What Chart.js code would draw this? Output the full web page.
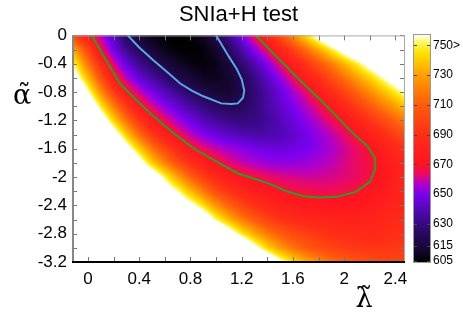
<!DOCTYPE html>
<html>
<head>
<meta charset="utf-8">
<script src="https://cdn.jsdelivr.net/npm/chart.js@4.4.0/dist/chart.umd.min.js"></script>
<style>
  html, body { margin: 0; padding: 0; background: #fff; }
</style>
</head>
<body>
<canvas id="chart" width="463" height="318"></canvas>
<script>
// Grid nodes of the map (lambda across, alpha down)
const lamNodes = [-0.1, 0, 0.1, 0.2, 0.3, 0.4, 0.5, 0.6, 0.7, 0.8, 0.9, 1.0, 1.1, 1.2,
                  1.3, 1.4, 1.5, 1.6, 1.7, 1.8, 1.9, 2.0, 2.1, 2.2, 2.3, 2.4, 2.5];
const alpNodes = [0, -0.2, -0.4, -0.6, -0.8, -1.0, -1.2, -1.4, -1.6, -1.8, -2.0,
                  -2.2, -2.4, -2.6, -2.8, -3.0, -3.2];

// chi2 values, one row per alpha node (above 757 = white)
const chiRows = [
  [697, 675, 657, 641, 622, 612, 607, 604, 603, 605, 610, 620, 633, 650, 667, 685, 704, 724, 745, 765, 785, 805, 825, 845, 865, 885, 905],
  [728, 700, 667, 648, 633, 622, 614, 608, 605, 604, 606, 612, 623, 637, 652, 665, 681, 698, 715, 732, 749, 765, 782, 800, 818, 836, 854],
  [748, 718, 688, 661, 645, 633, 623, 616, 611, 607, 606, 608, 615, 627, 639, 651, 664, 678, 692, 706, 720, 735, 749, 763, 777, 792, 807],
  [766, 736, 705, 675, 657, 645, 636, 627, 619, 614, 610, 609, 612, 620, 631, 642, 653, 664, 677, 690, 703, 716, 729, 742, 755, 768, 781],
  [790, 757, 725, 697, 672, 659, 649, 640, 632, 624, 618, 614, 613, 619, 628, 637, 646, 655, 663, 674, 687, 700, 712, 724, 736, 748, 760],
  [810, 780, 748, 720, 695, 673, 661, 652, 644, 636, 629, 624, 621, 622, 628, 636, 643, 650, 657, 664, 673, 685, 697, 708, 719, 730, 741],
  [840, 805, 772, 742, 716, 693, 675, 664, 655, 647, 640, 635, 631, 629, 630, 634, 640, 646, 652, 658, 664, 671, 681, 692, 702, 712, 722],
  [870, 835, 800, 768, 740, 715, 694, 678, 667, 658, 651, 646, 642, 639, 637, 637, 639, 643, 648, 653, 658, 663, 670, 679, 688, 697, 706],
  [900, 865, 830, 797, 766, 741, 718, 700, 685, 671, 664, 659, 655, 652, 649, 647, 646, 647, 649, 652, 656, 660, 664, 669, 677, 685, 693],
  [930, 895, 860, 826, 794, 766, 741, 721, 704, 690, 678, 669, 663, 659, 656, 654, 653, 653, 654, 656, 658, 661, 664, 667, 673, 680, 687],
  [960, 925, 890, 856, 823, 793, 773, 751, 730, 712, 697, 685, 676, 670, 667, 664, 662, 661, 660, 660, 661, 662, 664, 667, 672, 678, 684],
  [990, 955, 920, 886, 853, 822, 794, 770, 755, 736, 719, 703, 692, 683, 677, 672, 669, 667, 666, 665, 665, 666, 668, 671, 675, 680, 685],
  [1020, 985, 950, 916, 883, 852, 823, 797, 775, 762, 745, 726, 712, 700, 691, 684, 679, 676, 674, 673, 672, 672, 673, 675, 678, 682, 686],
  [1048, 1020, 992, 964, 936, 908, 880, 853, 826, 800, 775, 752, 735, 720, 708, 699, 692, 687, 684, 682, 681, 680, 680, 681, 683, 686, 690],
  [1085, 1058, 1031, 1004, 977, 950, 923, 896, 869, 842, 815, 790, 768, 748, 732, 719, 709, 702, 697, 693, 690, 688, 687, 686, 687, 689, 692],
  [1122, 1096, 1070, 1044, 1018, 992, 966, 940, 914, 888, 862, 836, 810, 785, 762, 743, 728, 717, 709, 703, 699, 696, 694, 693, 693, 694, 696],
  [1150, 1125, 1100, 1075, 1050, 1025, 1000, 975, 950, 925, 900, 875, 850, 826, 802, 780, 760, 745, 733, 724, 716, 710, 706, 703, 701, 700, 700]
];

// Contours
const blueLam = [0.31, 0.40, 0.51, 0.62, 0.72, 0.81, 0.90, 1.04, 1.12, 1.17, 1.21, 1.22, 1.20, 1.16, 1.10, 1.05, 1.00];
const blueAlp = [0, -0.17, -0.35, -0.52, -0.68, -0.78, -0.86, -0.96, -0.97, -0.96, -0.88, -0.78, -0.62, -0.47, -0.30, -0.15, 0];
const greenLam = [0.03, 0.14, 0.25, 0.38, 0.51, 0.66, 0.82, 1.00, 1.17, 1.41, 1.55, 1.68, 1.80, 1.94, 2.09, 2.20, 2.24, 2.24, 2.18, 2.05, 1.94, 1.82, 1.68, 1.50, 1.31];
const greenAlp = [0, -0.35, -0.68, -0.92, -1.14, -1.37, -1.59, -1.78, -1.95, -2.09, -2.20, -2.27, -2.29, -2.28, -2.21, -2.07, -1.90, -1.73, -1.56, -1.35, -1.14, -0.92, -0.68, -0.35, 0];

// Ticks
const xTicks = [0, 0.4, 0.8, 1.2, 1.6, 2, 2.4];
const yTicks = [0, -0.4, -0.8, -1.2, -1.6, -2, -2.4, -2.8, -3.2];
const cbTicks = [605, 615, 630, 650, 670, 690, 710, 730, 750];
const cbLabels = ['605', '615', '630', '650', '670', '690', '710', '730', '750>'];

// palette
const cmV = [604, 612, 620, 630, 640, 650, 657, 663, 670, 690, 710, 730, 745, 752, 757];
const cmC = ['#000000', '#14062e', '#22084f', '#36097f', '#5407b8', '#7c00f0', '#b400c4', '#e8086a',
             '#ff1420', '#ff2e16', '#ff5c0c', '#ffa000', '#ffe000', '#fff860', '#fffff0'].map(h => [
  parseInt(h.slice(1, 3), 16), parseInt(h.slice(3, 5), 16), parseInt(h.slice(5, 7), 16)]);

function colorOf(v) {
  if (v > cmV[cmV.length - 1]) return [255, 255, 255];
  if (v <= cmV[0]) return cmC[0];
  let k = 1;
  while (cmV[k] < v) k++;
  const t = (v - cmV[k - 1]) / (cmV[k] - cmV[k - 1]);
  const a = cmC[k - 1], b = cmC[k];
  return [a[0] + (b[0] - a[0]) * t, a[1] + (b[1] - a[1]) * t, a[2] + (b[2] - a[2]) * t];
}

function valueAt(lam, alp) {
  const nx = lamNodes.length, ny = alpNodes.length;
  let fx = (lam - lamNodes[0]) / (lamNodes[1] - lamNodes[0]);
  let fy = (alp - alpNodes[0]) / (alpNodes[1] - alpNodes[0]);
  fx = Math.max(0, Math.min(nx - 1, fx));
  fy = Math.max(0, Math.min(ny - 1, fy));
  const i = Math.min(Math.floor(fx), nx - 2), j = Math.min(Math.floor(fy), ny - 2);
  const tx = fx - i, ty = fy - j;
  const r0 = chiRows[j], r1 = chiRows[j + 1];
  const top = r0[i] + (r0[i + 1] - r0[i]) * tx;
  const bot = r1[i] + (r1[i + 1] - r1[i]) * tx;
  return top + (bot - top) * ty;
}

const heatmap = {
  id: 'heatmap',
  beforeDatasetsDraw(chart) {
    const {ctx, chartArea: a, scales: {x, y}} = chart;
    const x0 = Math.round(a.left), y0 = Math.round(a.top);
    const w = Math.round(a.right) - x0, h = Math.round(a.bottom) - y0;
    const img = ctx.createImageData(w, h);
    const lams = [];
    for (let i = 0; i < w; i++) lams.push(x.getValueForPixel(x0 + i + 0.5));
    for (let j = 0; j < h; j++) {
      const alp = y.getValueForPixel(y0 + j + 0.5);
      for (let i = 0; i < w; i++) {
        const c = colorOf(valueAt(lams[i], alp));
        const p = (j * w + i) * 4;
        img.data[p] = c[0]; img.data[p + 1] = c[1]; img.data[p + 2] = c[2]; img.data[p + 3] = 255;
      }
    }
    ctx.putImageData(img, x0, y0);
  }
};

const frame = {
  id: 'frame',
  afterDatasetsDraw(chart) {
    const {ctx, chartArea: a, scales: {x, y, cb}} = chart;
    ctx.save();
    // minor/major ticks inward on all four sides
    ctx.strokeStyle = '#777';
    ctx.lineWidth = 1;
    ctx.beginPath();
    for (let v = 0; v <= 2.41; v += 0.2) {
      const px = Math.round(x.getPixelForValue(v)) + 0.5;
      ctx.moveTo(px, a.bottom); ctx.lineTo(px, a.bottom - 5);
      ctx.moveTo(px, a.top); ctx.lineTo(px, a.top + 5);
    }
    for (let v = 0; v >= -3.21; v -= 0.2) {
      const py = Math.round(y.getPixelForValue(v)) + 0.5;
      ctx.moveTo(a.left, py); ctx.lineTo(a.left + 5, py);
      ctx.moveTo(a.right, py); ctx.lineTo(a.right - 5, py);
    }
    ctx.stroke();
    // box
    ctx.strokeStyle = '#aaa';
    ctx.beginPath();
    ctx.moveTo(a.left, a.top + 0.5); ctx.lineTo(a.right, a.top + 0.5);
    ctx.moveTo(a.right - 0.5, a.top); ctx.lineTo(a.right - 0.5, a.bottom);
    ctx.stroke();
    ctx.strokeStyle = '#888';
    ctx.lineWidth = 2;
    ctx.beginPath();
    ctx.moveTo(a.left + 1, a.top); ctx.lineTo(a.left + 1, a.bottom);
    ctx.stroke();
    ctx.strokeStyle = '#000';
    ctx.beginPath();
    ctx.moveTo(a.left, a.bottom); ctx.lineTo(a.right, a.bottom);
    ctx.stroke();

    // colour bar
    const bx = cb.left + 9, bw = 16;
    for (let py = Math.round(cb.top); py < Math.round(cb.bottom); py++) {
      const c = colorOf(Math.min(756.9, cb.getValueForPixel(py + 0.5)));
      ctx.fillStyle = 'rgb(' + c.map(Math.round).join(',') + ')';
      ctx.fillRect(bx, py, bw, 1);
    }
    ctx.strokeStyle = '#999';
    ctx.lineWidth = 1;
    ctx.strokeRect(bx - 0.5, Math.round(cb.top) - 0.5, bw + 1, Math.round(cb.bottom) - Math.round(cb.top) + 1);
    ctx.strokeStyle = '#444';
    ctx.beginPath();
    cbTicks.forEach(v => {
      const py = Math.round(cb.getPixelForValue(v)) + 0.5;
      ctx.moveTo(bx, py); ctx.lineTo(bx + 3, py);
      ctx.moveTo(bx + bw, py); ctx.lineTo(bx + bw - 3, py);
    });
    ctx.stroke();

    // axis symbols
    ctx.fillStyle = '#000';
    ctx.font = '27px "DejaVu Serif"';
    ctx.textAlign = 'center';
    ctx.textBaseline = 'middle';
    ctx.fillText('\u03b1\u0303', 22, 97);
    ctx.fillText('\u03bb\u0303', 364, 300);
    ctx.restore();
  }
};

const tickFont = {family: '"Liberation Sans", Arial, sans-serif', size: 17};

new Chart(document.getElementById('chart'), {
  type: 'scatter',
  data: {
    datasets: [
      {
        data: blueLam.map((l, i) => ({x: l, y: blueAlp[i]})),
        showLine: true, borderColor: '#58a8e4', borderWidth: 2, pointRadius: 0, tension: 0
      },
      {
        data: greenLam.map((l, i) => ({x: l, y: greenAlp[i]})),
        showLine: true, borderColor: '#2f9a2a', borderWidth: 2, pointRadius: 0, tension: 0
      }
    ]
  },
  options: {
    responsive: false,
    animation: false,
    layout: {padding: 0},
    plugins: {
      legend: {display: false},
      tooltip: {enabled: false},
      title: {
        display: true, text: 'SNIa+H test', fullSize: false, color: '#000',
        font: {family: '"Liberation Sans", Arial, sans-serif', size: 22, weight: 'normal'},
        padding: {top: 2, bottom: 7}
      }
    },
    scales: {
      x: {
        type: 'linear', min: -0.125, max: 2.475,
        grid: {display: false, drawTicks: false}, border: {display: false},
        afterBuildTicks: s => { s.ticks = xTicks.map(v => ({value: v})); },
        afterFit: s => { s.height = 56; },
        ticks: {font: tickFont, color: '#000', padding: 7, autoSkip: false, maxRotation: 0,
                callback: v => String(v)}
      },
      y: {
        type: 'linear', min: -3.2, max: 0,
        grid: {display: false, drawTicks: false}, border: {display: false},
        afterBuildTicks: s => { s.ticks = yTicks.map(v => ({value: v})); },
        afterFit: s => { s.width = 72; },
        ticks: {font: tickFont, color: '#000', padding: 5, autoSkip: false,
                callback: v => String(v)}
      },
      cb: {
        type: 'linear', position: 'right', min: 604.3, max: 756.7,
        grid: {display: false, drawTicks: false}, border: {display: false},
        afterBuildTicks: s => { s.ticks = cbTicks.map(v => ({value: v})); },
        afterFit: s => { s.width = 58; },
        ticks: {font: {family: '"Liberation Sans", Arial, sans-serif', size: 12}, color: '#000',
                padding: 28, autoSkip: false, callback: v => cbLabels[cbTicks.indexOf(v)]}
      }
    }
  },
  plugins: [heatmap, frame]
});
</script>
</body>
</html>
